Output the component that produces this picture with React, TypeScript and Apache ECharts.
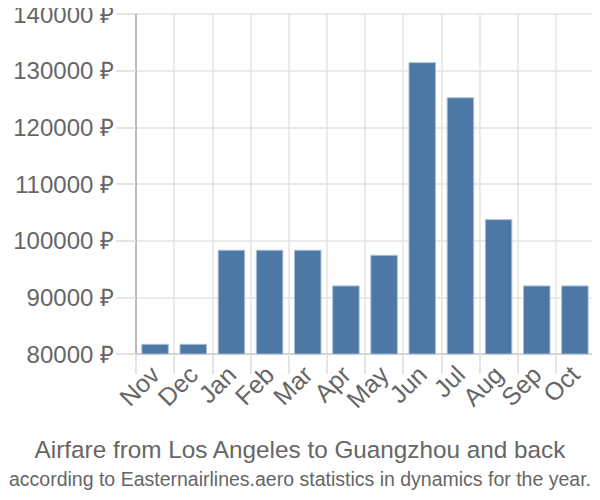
import React, { useEffect, useRef } from "react";
import * as echarts from "echarts";

const months = ["Nov", "Dec", "Jan", "Feb", "Mar", "Apr", "May", "Jun", "Jul", "Aug", "Sep", "Oct"];
const prices = [81800, 81800, 98400, 98400, 98400, 92100, 97500, 131500, 125300, 103800, 92100, 92100];
const titleText = "Airfare from Los Angeles to Guangzhou and back";
const subtitleText = "according to Easternairlines.aero statistics in dynamics for the year.";

export default function App() {
  const ref = useRef<HTMLDivElement>(null);
  useEffect(() => {
    if (!ref.current) return;
    const chart = echarts.init(ref.current, undefined, { renderer: "svg" });
    chart.setOption({
      animation: false,
      textStyle: { fontFamily: "'Liberation Sans', Arial, sans-serif" },
      title: [
        {
          text: titleText,
          left: "center",
          top: 432,
          textStyle: { fontSize: 24.3, fontWeight: "normal", color: "#666" },
        },
        {
          text: subtitleText,
          left: "center",
          top: 464,
          textStyle: { fontSize: 19.5, fontWeight: "normal", color: "#666" },
        },
      ],
      grid: { left: 136, right: 6, top: 14, bottom: 146, containLabel: false },
      xAxis: {
        type: "category",
        data: months,
        axisLine: { show: true, lineStyle: { color: "#ccc", width: 1.5 } },
        axisTick: { show: true, length: 20, lineStyle: { color: "#ddd", width: 1.5 } },
        splitLine: { show: true, lineStyle: { color: "#e3e3e3", width: 1.5 } },
        axisLabel: { rotate: 45, interval: 0, fontSize: 25, color: "#666", margin: 16 },
      },
      yAxis: {
        type: "value",
        min: 80000,
        max: 140000,
        interval: 10000,
        axisLine: { show: true, lineStyle: { color: "#aaa", width: 1.5 } },
        axisTick: { show: true, length: 20, lineStyle: { color: "#ddd", width: 1.5 } },
        splitLine: { show: true, lineStyle: { color: "#e3e3e3", width: 1.5 } },
        axisLabel: { formatter: (v: number) => v + " ₽", fontSize: 24, color: "#666", margin: 22 },
      },
      series: [
        {
          type: "bar",
          data: prices,
          barWidth: "72%",
          itemStyle: { color: "#4d78a6", borderColor: "#a9bfd6", borderWidth: 1 },
        },
      ],
    });
    return () => chart.dispose();
  }, []);
  return <div ref={ref} style={{ width: 600, height: 500, margin: -8 }} />;
}
